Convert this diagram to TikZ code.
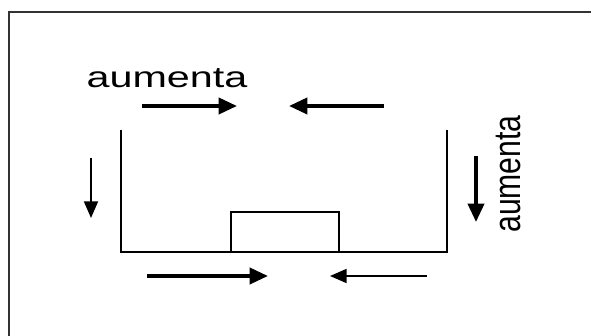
\documentclass[tikz,border=0pt]{standalone}
\usepackage{fontspec}
\setmainfont{Liberation Sans}
\usepackage{tikz}
\usetikzlibrary{arrows.meta, calc}
\tikzset{
    wall/.style={line width=1.6pt, black},
    thinarrow/.style={line width=1.6pt, -{Triangle[length=0.5cm, width=0.42cm]}},
    thickarrow/.style={line width=3.2pt, -{Triangle[length=0.55cm, width=0.48cm]}},
    wordtxt/.style={font=\fontsize{25}{27}\selectfont, inner sep=0pt}
}

\begin{document}
\begin{tikzpicture}
    \useasboundingbox (0,0) rectangle (17.73,10.08);

    % Frame (only top and left edges visible)
    \draw[line width=1.3pt, black!80] (0.27,0) -- (0.27,9.72) -- (17.73,9.72);

    % Container
    \coordinate (ctl) at (3.63,6.18);
    \coordinate (cbl) at (3.63,2.52);
    \coordinate (cbr) at (13.41,2.52);
    \coordinate (ctr) at (13.41,6.18);
    \draw[wall] (ctl) -- (cbl) -- (cbr) -- (ctr);

    % Block on the floor
    \coordinate (bl) at (6.93,2.52);
    \coordinate (br) at (10.17,2.52);
    \draw[wall] (bl) |- (10.17,3.72) -- (br);

    % Arrow end points
    \coordinate (t1s) at (4.26,6.90);  \coordinate (t1e) at (7.11,6.90);
    \coordinate (t2s) at (11.52,6.90); \coordinate (t2e) at (8.67,6.90);
    \coordinate (b1s) at (4.41,1.80);  \coordinate (b1e) at (8.04,1.80);
    \coordinate (b2s) at (12.81,1.80); \coordinate (b2e) at (9.90,1.80);
    \coordinate (l1s) at (2.73,5.34);  \coordinate (l1e) at (2.73,3.54);
    \coordinate (r1s) at (14.28,5.40); \coordinate (r1e) at (14.28,3.42);

    % Arrows
    \draw[thickarrow] (t1s) -- (t1e);
    \draw[thickarrow] (t2s) -- (t2e);
    \draw[thickarrow] (b1s) -- (b1e);
    \draw[thinarrow]  (b2s) -- (b2e);
    \draw[thinarrow]  (l1s) -- (l1e);
    \draw[thickarrow] (r1s) -- (r1e);

    % Labels
    \node[wordtxt] (topword) at (5.01,7.74) {\scalebox{1.41}[1]{aumenta}};
    \node[wordtxt, rotate=90] (sideword) at (15.24,4.86) {\scalebox{1.03}[1.29]{aumenta}};
\end{tikzpicture}
\end{document}
